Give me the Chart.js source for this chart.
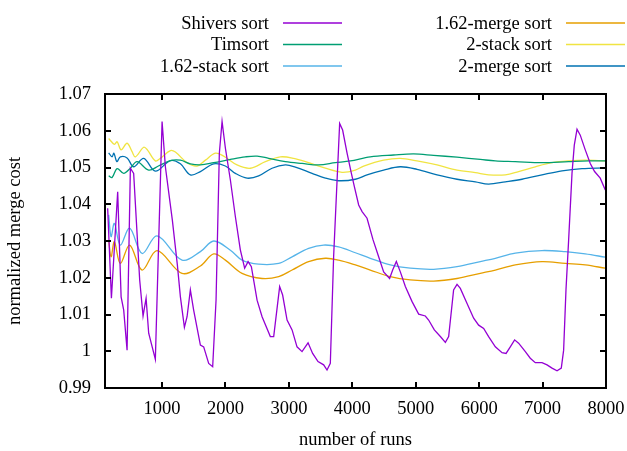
<!DOCTYPE html>
<html>
<head>
<meta charset="utf-8">
<script src="https://cdn.jsdelivr.net/npm/chart.js@4.4.1/dist/chart.umd.min.js"></script>
<style>
  html, body { margin: 0; padding: 0; background: #fff; }
</style>
</head>
<body>
<canvas id="merge-chart" width="627" height="451"></canvas>
<script>
// values (x = number of runs, y = normalized merge cost)
const shiversRuns = [
  142, 201, 300, 354, 395, 448, 500, 552, 647, 700, 748, 789, 894, 1000, 1052, 1162,
  1241, 1289, 1352, 1394, 1446, 1498, 1604, 1656, 1735, 1798, 1851, 1903, 1946, 1998,
  2077, 2156, 2234, 2302, 2356, 2408, 2498, 2577, 2707, 2760, 2854, 2901, 2971, 3050,
  3128, 3207, 3302, 3374, 3459, 3548, 3601, 3653, 3705, 3800, 3847, 3917, 3985, 4032,
  4100, 4154, 4232, 4327, 4415, 4494, 4588, 4636, 4694, 4757, 4836, 4942, 5046, 5151,
  5203, 5293, 5388, 5467, 5519, 5597, 5651, 5703, 5809, 5913, 5992, 6071, 6149, 6255,
  6361, 6424, 6491, 6559, 6622, 6728, 6806, 6885, 6991, 7070, 7149, 7228, 7295, 7332,
  7369, 7411, 7464, 7500, 7543, 7594, 7673, 7752, 7820, 7909, 7989,
];
const shiversCost = [
  1.0389, 1.0144, 1.0434, 1.0148, 1.0112, 1.0003, 1.0498, 1.0484, 1.0194, 1.0096, 1.0144, 1.0049, 0.9978, 1.0625, 1.0502, 1.0357,
  1.0235, 1.0148, 1.0065, 1.0094, 1.0167, 1.0112, 1.0017, 1.0012, 0.9967, 0.9958, 1.0139, 1.0539, 1.0625, 1.0553,
  1.0466, 1.0366, 1.0276, 1.0226, 1.0244, 1.0230, 1.0139, 1.0094, 1.0040, 1.0040, 1.0176, 1.0153, 1.0085, 1.0058,
  1.0012, 0.9999, 1.0023, 0.9994, 0.9972, 0.9963, 0.9949, 0.9967, 1.0257, 1.0620, 1.0602, 1.0539, 1.0484, 1.0448,
  1.0398, 1.0380, 1.0362, 1.0303, 1.0257, 1.0216, 1.0198, 1.0221, 1.0244, 1.0216, 1.0176, 1.0135, 1.0101, 1.0096,
  1.0085, 1.0058, 1.0040, 1.0024, 1.0040, 1.0167, 1.0182, 1.0171, 1.0130, 1.0090, 1.0071, 1.0062, 1.0040, 1.0012,
  0.9996, 0.9994, 1.0012, 1.0031, 1.0022, 0.9999, 0.9981, 0.9969, 0.9969, 0.9963, 0.9954, 0.9947, 0.9954, 1.0003,
  1.0167, 1.0303, 1.0484, 1.0561, 1.0604, 1.0588, 1.0548, 1.0511, 1.0489, 1.0471, 1.0439,
];

const timsortRuns = [
  158, 212, 291, 395, 500, 606, 789, 942, 1131, 1289, 1446, 1604, 1814, 2077, 2313, 2498, 2681,
  2944, 3207, 3469, 3732, 3968, 4283, 4651, 4967, 5282, 5651, 6018, 6255, 6570, 6991, 7411, 7726, 7989,
];
const timsortCost = [
  1.0477, 1.0473, 1.0497, 1.0484, 1.0498, 1.0516, 1.0493, 1.0504, 1.0519, 1.0520, 1.0510, 1.0507, 1.0513, 1.0522, 1.0529, 1.0531, 1.0525,
  1.0516, 1.0511, 1.0507, 1.0513, 1.0518, 1.0529, 1.0534, 1.0537, 1.0533, 1.0528, 1.0522, 1.0518, 1.0516, 1.0513, 1.0516, 1.0518, 1.0518,
];

const stack162Runs = [
  158, 196, 248, 342, 489, 685, 921, 1315, 1604, 1814, 2077, 2261, 2523, 2839, 3050, 3311,
  3548, 3784, 4048, 4283, 4599, 4914, 5282, 5651, 6018, 6255, 6570, 6991, 7358, 7673, 7989,
];
const stack162Cost = [
  1.0371, 1.0312, 1.0348, 1.0289, 1.0335, 1.0266, 1.0314, 1.0248, 1.0271, 1.0300, 1.0275, 1.0248, 1.0237, 1.0239, 1.0257, 1.0280,
  1.0289, 1.0284, 1.0268, 1.0253, 1.0235, 1.0226, 1.0223, 1.0230, 1.0244, 1.0253, 1.0267, 1.0274, 1.0271, 1.0265, 1.0256,
];

const merge162Runs = [
  158, 196, 248, 342, 489, 685, 921, 1315, 1604, 1814, 1998, 2261, 2577, 2839, 3050, 3311,
  3575, 3784, 4048, 4283, 4599, 4914, 5282, 5651, 6018, 6255, 6570, 6991, 7358, 7673, 7989,
];
const merge162Cost = [
  1.0303, 1.0257, 1.0298, 1.0239, 1.0289, 1.0221, 1.0274, 1.0212, 1.0232, 1.0265, 1.0248, 1.0212, 1.0198, 1.0203, 1.0221, 1.0244,
  1.0253, 1.0248, 1.0235, 1.0221, 1.0203, 1.0194, 1.0191, 1.0198, 1.0212, 1.0221, 1.0235, 1.0244, 1.0239, 1.0235, 1.0226,
];

const stack2Runs = [
  158, 248, 291, 354, 448, 527, 579, 710, 768, 894, 973, 1131, 1210, 1394, 1552, 1683, 1840, 1971, 2182, 2392, 2629,
  2865, 3075, 3311, 3575, 3838, 4048, 4179, 4494, 4757, 5020, 5336, 5651, 5940, 6149, 6413, 6622, 6885, 7149, 7411, 7673, 7989,
];
const stack2Cost = [
  1.0579, 1.0563, 1.0570, 1.0548, 1.0566, 1.0543, 1.0529, 1.0555, 1.0548, 1.0518, 1.0525, 1.0546, 1.0542, 1.0513, 1.0504, 1.0520, 1.0539, 1.0531, 1.0507, 1.0498, 1.0516,
  1.0529, 1.0525, 1.0513, 1.0498, 1.0487, 1.0493, 1.0504, 1.0520, 1.0525, 1.0518, 1.0507, 1.0493, 1.0486, 1.0480, 1.0480, 1.0489, 1.0502, 1.0513, 1.0518, 1.0520, 1.0518,
];

const merge2Runs = [
  158, 212, 240, 288, 342, 448, 552, 710, 894, 1131, 1289, 1446, 1604, 1814, 1998, 2156, 2340, 2523, 2734, 2944,
  3102, 3365, 3575, 3784, 4048, 4232, 4494, 4757, 5020, 5336, 5651, 5940, 6149, 6413, 6676, 6991, 7306, 7622, 7989,
];
const merge2Cost = [
  1.0540, 1.0529, 1.0539, 1.0516, 1.0529, 1.0526, 1.0502, 1.0525, 1.0490, 1.0519, 1.0510, 1.0480, 1.0489, 1.0510, 1.0504, 1.0484, 1.0471, 1.0477, 1.0498, 1.0507,
  1.0501, 1.0484, 1.0471, 1.0464, 1.0468, 1.0480, 1.0493, 1.0502, 1.0495, 1.0480, 1.0468, 1.0461, 1.0455, 1.0461, 1.0468, 1.0480, 1.0491, 1.0497, 1.0499,
];

const xTicks = [1000, 2000, 3000, 4000, 5000, 6000, 7000, 8000];
const yTicks = [0.99, 1.0, 1.01, 1.02, 1.03, 1.04, 1.05, 1.06, 1.07];

const FONT = 'Liberation Serif, Times New Roman, serif';
const FONT_SIZE = 18.5;
const FRAME = '#000000';

const toPoints = (xs, ys) => xs.map((x, i) => ({ x, y: ys[i] }));

const series = [
  { label: 'Shivers sort', xs: shiversRuns, ys: shiversCost, color: '#9400d3', tension: 0 },
  { label: 'Timsort', xs: timsortRuns, ys: timsortCost, color: '#009e73', tension: 0.35 },
  { label: '1.62-stack sort', xs: stack162Runs, ys: stack162Cost, color: '#56b4e9', tension: 0.35 },
  { label: '1.62-merge sort', xs: merge162Runs, ys: merge162Cost, color: '#e69f00', tension: 0.35 },
  { label: '2-stack sort', xs: stack2Runs, ys: stack2Cost, color: '#f0e442', tension: 0.35 },
  { label: '2-merge sort', xs: merge2Runs, ys: merge2Cost, color: '#0072b2', tension: 0.35 },
];

// gnuplot look: two column key, border box and inward ticks on all four sides
const gnuplotDecor = {
  id: 'gnuplotDecor',
  afterDraw(chart) {
    const ctx = chart.ctx;
    const area = chart.chartArea;
    const sx = chart.scales.x;
    const sy = chart.scales.y;

    const columns = [
      { textRight: 269, lineFrom: 283, lineTo: 342 },
      { textRight: 552, lineFrom: 566, lineTo: 625 },
    ];
    const baselines = [28.5, 50, 71.5];
    ctx.save();
    ctx.font = `${FONT_SIZE}px ${FONT}`;
    ctx.fillStyle = '#000';
    ctx.textAlign = 'right';
    ctx.textBaseline = 'alphabetic';
    chart.data.datasets.forEach((ds, i) => {
      const col = columns[Math.floor(i / 3)];
      const base = baselines[i % 3];
      ctx.fillText(ds.label, col.textRight, base);
      ctx.strokeStyle = ds.borderColor;
      ctx.lineWidth = 1.4;
      ctx.beginPath();
      ctx.moveTo(col.lineFrom, base - 5.5);
      ctx.lineTo(col.lineTo, base - 5.5);
      ctx.stroke();
    });
    ctx.restore();

    // box drawn as filled strips so it stays crisp
    const L = Math.round(area.left);
    const R = Math.round(area.right);
    const T = Math.round(area.top);
    const B = Math.round(area.bottom);
    const w = 2;
    const tickLen = 6;
    ctx.save();
    ctx.fillStyle = FRAME;
    ctx.fillRect(L - 1, T - 1, R - L + w, w);
    ctx.fillRect(L - 1, B - 1, R - L + w, w);
    ctx.fillRect(L - 1, T - 1, w, B - T + w);
    ctx.fillRect(R - 1, T - 1, w, B - T + w);
    xTicks.forEach((v) => {
      const px = Math.round(sx.getPixelForValue(v));
      ctx.fillRect(px - 1, B - tickLen, w, tickLen);
      ctx.fillRect(px - 1, T, w, tickLen);
    });
    yTicks.forEach((v) => {
      const py = Math.round(sy.getPixelForValue(v));
      ctx.fillRect(L, py - 1, tickLen, w);
      ctx.fillRect(R - tickLen, py - 1, tickLen, w);
    });
    ctx.restore();
  },
};

new Chart(document.getElementById('merge-chart'), {
  type: 'line',
  data: {
    datasets: series.map((s) => ({
      label: s.label,
      data: toPoints(s.xs, s.ys),
      borderColor: s.color,
      backgroundColor: s.color,
      borderWidth: 1.3,
      pointRadius: 0,
      tension: s.tension,
      fill: false,
    })),
  },
  options: {
    responsive: false,
    animation: false,
    layout: {
      padding: { top: 94, right: 21, left: 0, bottom: 0 },
    },
    plugins: {
      legend: { display: false },
      tooltip: { enabled: false },
    },
    scales: {
      x: {
        type: 'linear',
        min: 100,
        max: 8000,
        afterBuildTicks: (scale) => {
          scale.ticks = xTicks.map((v) => ({ value: v }));
        },
        afterFit: (scale) => {
          scale.height = 63;
          scale.paddingLeft = 0;
          scale.paddingRight = 0;
        },
        grid: { display: false, drawTicks: false },
        border: { display: false },
        ticks: {
          color: '#000',
          padding: 10,
          maxRotation: 0,
          font: { family: FONT, size: FONT_SIZE },
          callback: (v) => String(v),
        },
        title: {
          display: true,
          text: 'number of runs',
          color: '#000',
          padding: { top: 0, bottom: 0 },
          font: { family: FONT, size: FONT_SIZE },
        },
      },
      y: {
        type: 'linear',
        min: 0.99,
        max: 1.07,
        afterBuildTicks: (scale) => {
          scale.ticks = yTicks.map((v) => ({ value: v }));
        },
        afterFit: (scale) => {
          scale.width = 105;
          scale.paddingTop = 0;
          scale.paddingBottom = 0;
        },
        grid: { display: false, drawTicks: false },
        border: { display: false },
        ticks: {
          color: '#000',
          padding: 14,
          font: { family: FONT, size: FONT_SIZE },
          callback: (v) => String(Math.round(v * 100) / 100),
        },
        title: {
          display: true,
          text: 'normalized merge cost',
          color: '#000',
          padding: { top: 4, bottom: 0 },
          font: { family: FONT, size: FONT_SIZE },
        },
      },
    },
  },
  plugins: [gnuplotDecor],
});
</script>
</body>
</html>
